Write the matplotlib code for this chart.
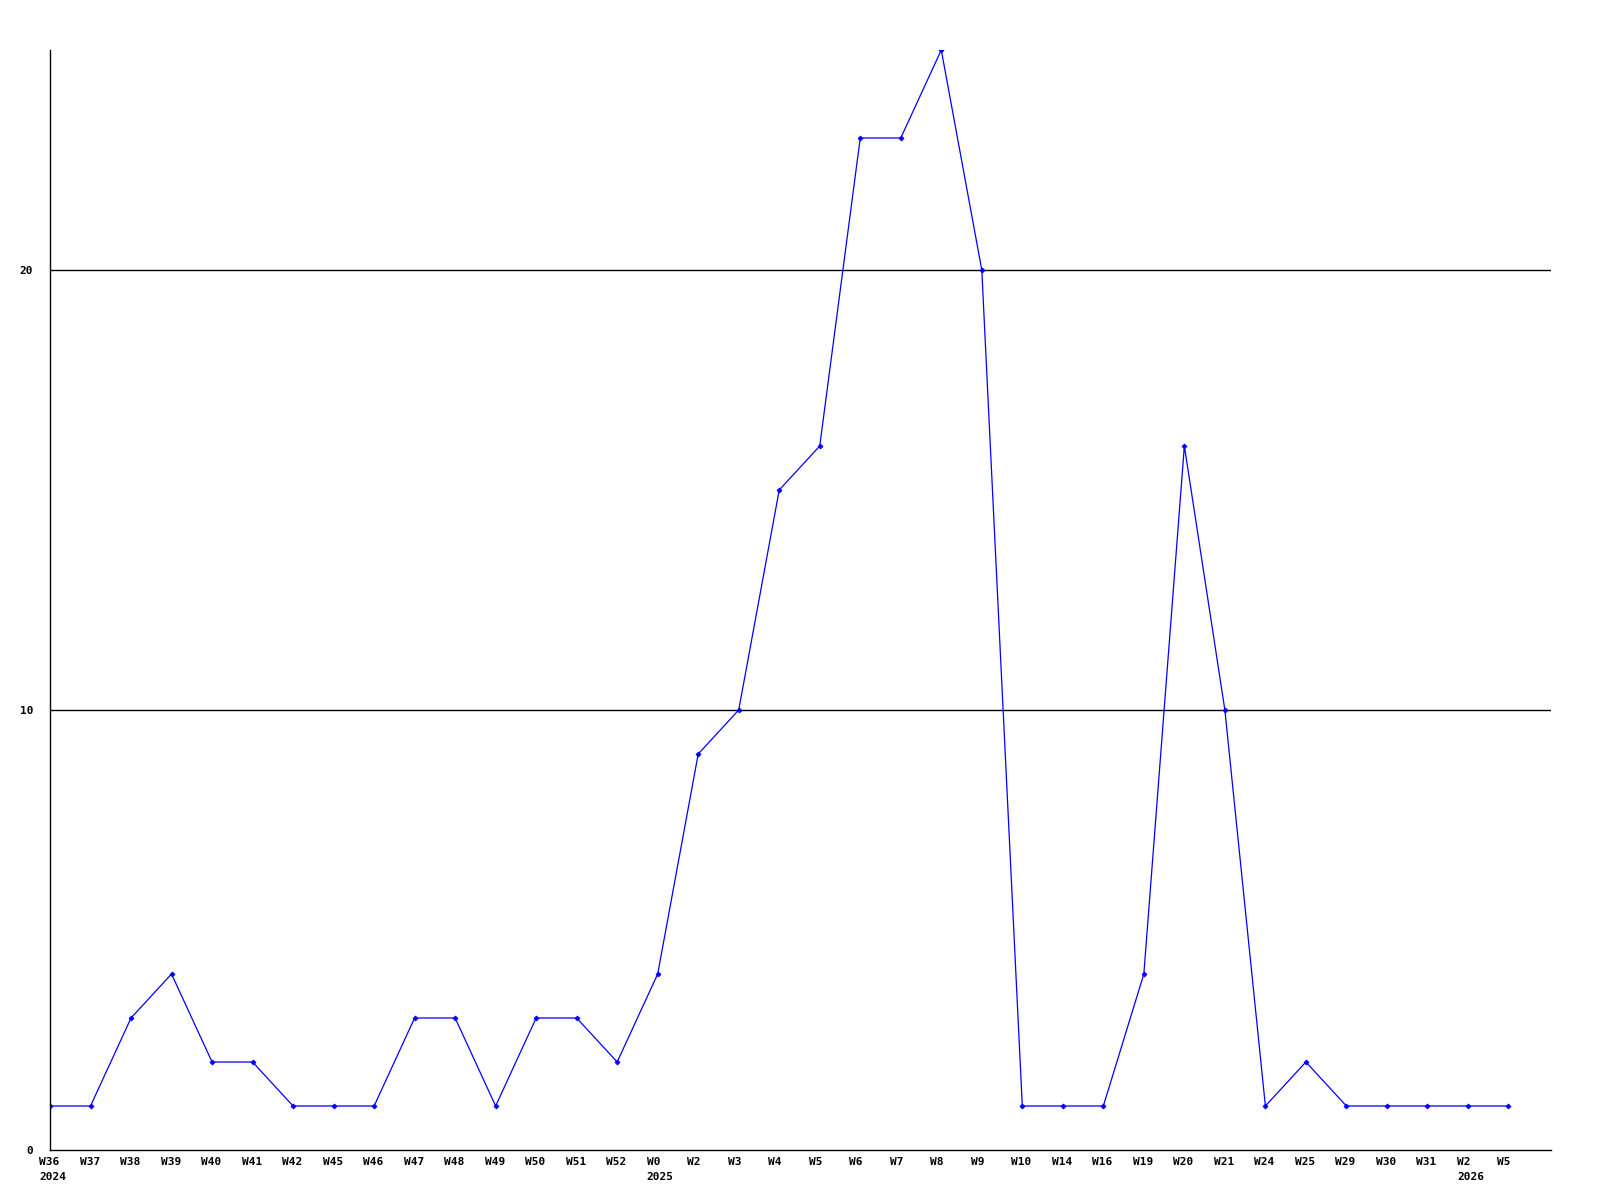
import matplotlib
matplotlib.use("Agg")
import matplotlib.pyplot as plt
import matplotlib.transforms as mtransforms

# weekly values
weeks = ["W36", "W37", "W38", "W39", "W40", "W41", "W42", "W45", "W46", "W47",
         "W48", "W49", "W50", "W51", "W52", "W0", "W2", "W3", "W4", "W5",
         "W6", "W7", "W8", "W9", "W10", "W14", "W16", "W19", "W20", "W21",
         "W24", "W25", "W29", "W30", "W31", "W2", "W5"]
values = [1, 1, 3, 4, 2, 2, 1, 1, 1, 3,
          3, 1, 3, 3, 2, 4, 9, 10, 15, 16,
          23, 23, 25, 20, 1, 1, 1, 4, 16, 10,
          1, 2, 1, 1, 1, 1, 1]
# year shown under the first week of each year
years = {0: "2024", 15: "2025", 35: "2026"}

yticks = [0, 10, 20]

fig = plt.figure(figsize=(16, 12), dpi=100)
ax = fig.add_axes([50 / 1600, 50 / 1200, 1501 / 1600, 1100 / 1200])

x = list(range(len(values)))
ax.plot(x, values, color="#0000ff", linewidth=0.9, marker="D", markersize=2.5,
        markeredgewidth=0.6)

for v in yticks[1:]:
    ax.axhline(v, color="black", linewidth=1, zorder=0)

ax.set_xlim(0, 37.05)
ax.set_ylim(0, 25)

for side in ["top", "right"]:
    ax.spines[side].set_visible(False)
for side in ["left", "bottom"]:
    ax.spines[side].set_linewidth(1)
    ax.spines[side].set_color("black")

ax.set_xticks([])
ax.set_yticks(yticks)
ax.set_yticklabels([str(v) for v in yticks], fontfamily="DejaVu Sans Mono",
                   fontweight="bold", fontsize=8)
ax.tick_params(axis="y", length=0, pad=12)

font = dict(fontfamily="DejaVu Sans Mono", fontweight="bold", fontsize=8)
trans = mtransforms.blended_transform_factory(ax.transData, ax.transAxes)
lab_trans = mtransforms.offset_copy(trans, fig=fig, x=-11, y=-12, units="dots")
year_trans = mtransforms.offset_copy(trans, fig=fig, x=-11, y=-27, units="dots")
for i, w in enumerate(weeks):
    ax.text(i, 0, w, transform=lab_trans, ha="left", va="center", **font)
    if i in years:
        ax.text(i, 0, years[i], transform=year_trans, ha="left", va="center", **font)

fig.savefig("out.png", dpi=100, facecolor="white")
